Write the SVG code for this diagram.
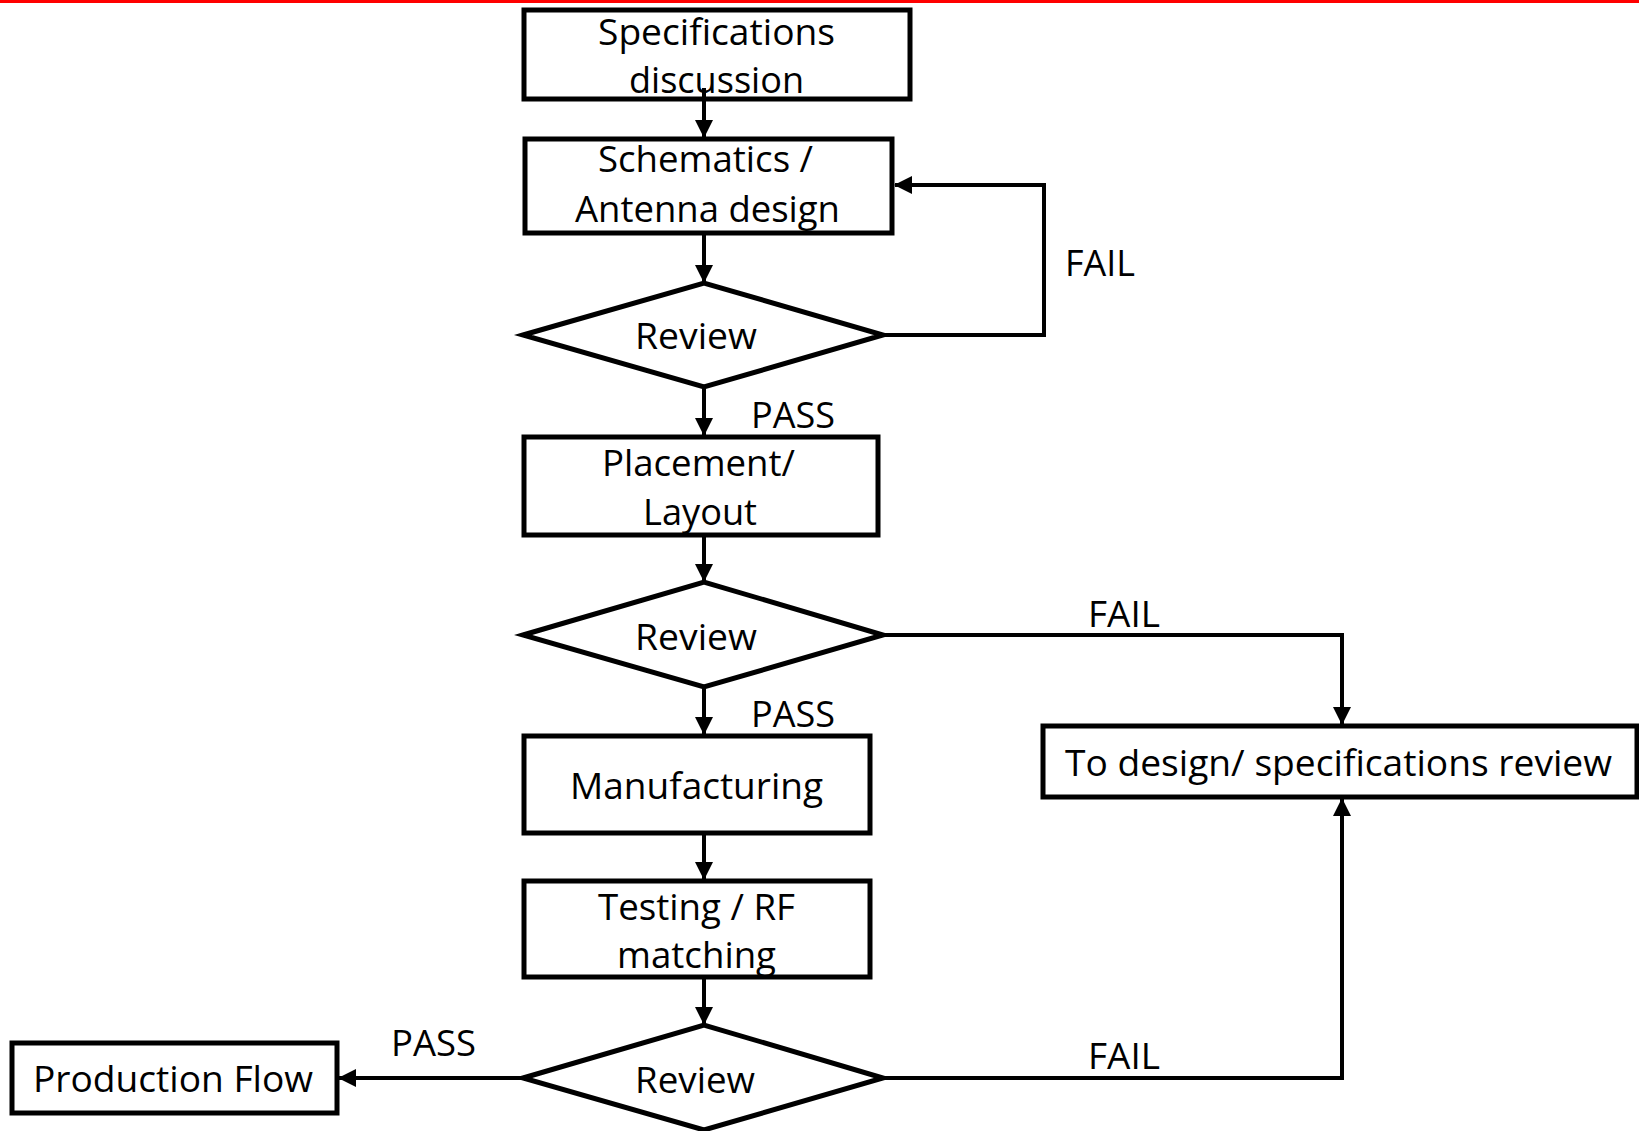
<svg xmlns="http://www.w3.org/2000/svg" width="1639" height="1131" viewBox="0 0 1639 1131">
<style>
.box{fill:#fff;stroke:#000;stroke-width:5;stroke-linejoin:miter}
.con{fill:none;stroke:#000;stroke-width:4}
text{font-family:"Open Sans","Noto Sans","Liberation Sans",sans-serif;font-size:36px;fill:#000}
</style>
<defs>
<marker id="arr" markerUnits="userSpaceOnUse" markerWidth="18" markerHeight="18" refX="17" refY="9" orient="auto">
<path d="M0,0 L18,9 L0,18 z" fill="#000"/>
</marker>
</defs>
<rect x="0" y="0" width="1639" height="1131" fill="#fff"/>
<rect x="0" y="0" width="1639" height="3" fill="#ff0000"/>

<g id="specs"><rect class="box" x="524" y="10" width="386" height="89"/>
<text x="598" y="45" textLength="237" lengthAdjust="spacingAndGlyphs">Specifications</text>
<text x="629" y="93" textLength="175" lengthAdjust="spacingAndGlyphs">discussion</text></g>

<g id="schematics"><rect class="box" x="525" y="139" width="367" height="94"/>
<text x="598" y="172" textLength="215" lengthAdjust="spacingAndGlyphs">Schematics /</text>
<text x="575" y="222" textLength="265" lengthAdjust="spacingAndGlyphs">Antenna design</text></g>

<g id="review1"><polygon class="box" points="523,335 704,283 883,335 704,387"/>
<text x="635" y="349" textLength="122" lengthAdjust="spacingAndGlyphs">Review</text></g>

<g id="placement"><rect class="box" x="524" y="437" width="354" height="98"/>
<text x="602" y="476" textLength="193" lengthAdjust="spacingAndGlyphs">Placement/</text>
<text x="643" y="525" textLength="114" lengthAdjust="spacingAndGlyphs">Layout</text></g>

<g id="review2"><polygon class="box" points="523,635 704,582 883,635 704,687"/>
<text x="635" y="650" textLength="122" lengthAdjust="spacingAndGlyphs">Review</text></g>

<g id="manufacturing"><rect class="box" x="524" y="736" width="346" height="97"/>
<text x="570" y="799" textLength="253" lengthAdjust="spacingAndGlyphs">Manufacturing</text></g>

<g id="designreview"><rect class="box" x="1043" y="726" width="594" height="71"/>
<text x="1065" y="776" textLength="547" lengthAdjust="spacingAndGlyphs">To design/ specifications review</text></g>

<g id="testing"><rect class="box" x="524" y="881" width="346" height="96"/>
<text x="598" y="920" textLength="197" lengthAdjust="spacingAndGlyphs">Testing / RF</text>
<text x="617" y="968" textLength="159" lengthAdjust="spacingAndGlyphs">matching</text></g>

<g id="review3"><polygon class="box" points="523,1078 704,1025 883,1078 704,1130"/>
<text x="635" y="1093" textLength="120" lengthAdjust="spacingAndGlyphs">Review</text></g>

<g id="production"><rect class="box" x="12" y="1043" width="325" height="70"/>
<text x="33" y="1092" textLength="280" lengthAdjust="spacingAndGlyphs">Production Flow</text></g>

<g id="connectors">
<path class="con" d="M704,88 V137" marker-end="url(#arr)"/>
<path class="con" d="M704,233 V282" marker-end="url(#arr)"/>
<path class="con" d="M883,335 H1044 V185 H895" marker-end="url(#arr)"/>
<path class="con" d="M704,387 V435" marker-end="url(#arr)"/>
<path class="con" d="M704,535 V581" marker-end="url(#arr)"/>
<path class="con" d="M883,635 H1342 V724" marker-end="url(#arr)"/>
<path class="con" d="M704,687 V734" marker-end="url(#arr)"/>
<path class="con" d="M704,833 V879" marker-end="url(#arr)"/>
<path class="con" d="M704,977 V1024" marker-end="url(#arr)"/>
<path class="con" d="M523,1078 H339" marker-end="url(#arr)"/>
<path class="con" d="M883,1078 H1342 V799" marker-end="url(#arr)"/>
<text x="1065" y="276" textLength="70" lengthAdjust="spacingAndGlyphs">FAIL</text>
<text x="751" y="428" textLength="84" lengthAdjust="spacingAndGlyphs">PASS</text>
<text x="1088" y="627" textLength="72" lengthAdjust="spacingAndGlyphs">FAIL</text>
<text x="751" y="727" textLength="84" lengthAdjust="spacingAndGlyphs">PASS</text>
<text x="1088" y="1069" textLength="72" lengthAdjust="spacingAndGlyphs">FAIL</text>
<text x="391" y="1056" textLength="85" lengthAdjust="spacingAndGlyphs">PASS</text>
</g>
</svg>
